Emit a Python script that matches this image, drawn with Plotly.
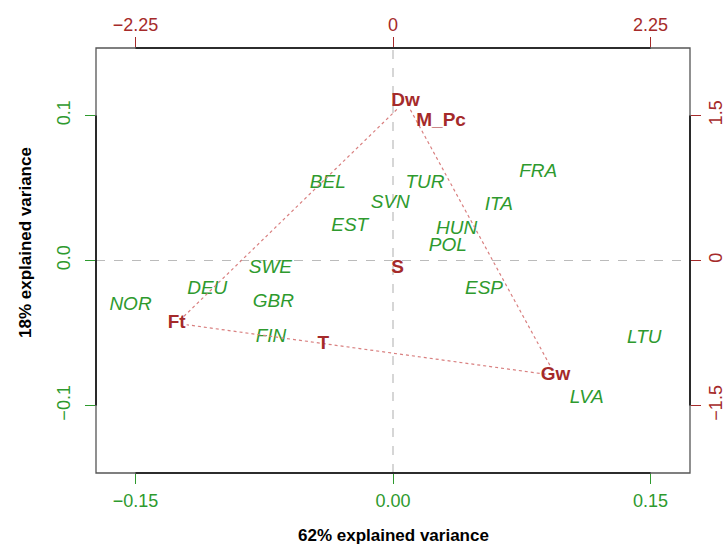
import plotly.graph_objects as go

# ---- data ----
countries = ["BEL", "SVN", "EST", "SWE", "DEU", "GBR", "NOR", "FIN",
             "TUR", "FRA", "ITA", "HUN", "POL", "ESP", "LTU", "LVA"]
pc1 = [-0.0380, -0.0016, -0.0252, -0.0714, -0.1082, -0.0697, -0.1529, -0.0711,
       0.0186, 0.0846, 0.0616, 0.0371, 0.0319, 0.0530, 0.1464, 0.1128]
pc2 = [0.0534, 0.0396, 0.0239, -0.0056, -0.0200, -0.0288, -0.0309, -0.0532,
       0.0534, 0.0605, 0.0384, 0.0214, 0.0101, -0.0200, -0.0538, -0.0952]

variables = ["Dw", "M_Pc", "S", "Ft", "T", "Gw"]
load1 = [0.11, 0.42, 0.04, -1.89, -0.61, 1.42]
load2 = [1.65, 1.44, -0.08, -0.65, -0.87, -1.19]
triangle = ["Ft", "Dw", "Gw", "Ft"]

x_ticks = [-0.15, 0.0, 0.15]
x_ticktext = ["\u22120.15", "0.00", "0.15"]
y_ticks = [-0.1, 0.0, 0.1]
y_ticktext = ["\u22120.1", "0.0", "0.1"]
x2_ticks = [-2.25, 0.0, 2.25]
x2_ticktext = ["\u22122.25", "0", "2.25"]
y2_ticks = [-1.5, 0.0, 1.5]
y2_ticktext = ["\u22121.5", "0", "1.5"]

x_title = "62% explained variance"
y_title = "18% explained variance"

# ---- styling ----
GREEN = "#2e9a2e"
RED = "#a52a2a"
LINE_RED = "#d98080"
FONT = "Liberation Sans, Arial, sans-serif"
W, H = 728, 544
ML, MR, MT, MB = 96, 38, 48, 71
XR = 0.173
YR = 0.1465
RATIO = 15.0
x_range = [-XR, XR]
y_range = [-YR, YR]
x2_range = [-XR * RATIO, XR * RATIO]
y2_range = [-YR * RATIO, YR * RATIO]

pw = W - ML - MR
ph = H - MT - MB
px_per_x2 = pw / (x2_range[1] - x2_range[0])
px_per_y2 = ph / (y2_range[1] - y2_range[0])

fig = go.Figure()

# triangle segments, trimmed near the labels
idx = {n: i for i, n in enumerate(variables)}
GAP = 10.0
for a, b in zip(triangle[:-1], triangle[1:]):
    xa, ya = load1[idx[a]], load2[idx[a]]
    xb, yb = load1[idx[b]], load2[idx[b]]
    dxp = (xb - xa) * px_per_x2
    dyp = (yb - ya) * px_per_y2
    L = (dxp ** 2 + dyp ** 2) ** 0.5
    f = GAP / L
    fig.add_trace(go.Scatter(
        x=[xa + (xb - xa) * f, xb - (xb - xa) * f],
        y=[ya + (yb - ya) * f, yb - (yb - ya) * f],
        mode="lines", line=dict(color=LINE_RED, width=1.2, dash="dot"),
        xaxis="x2", yaxis="y2", hoverinfo="skip", showlegend=False))

# country scores
fig.add_trace(go.Scatter(
    x=pc1, y=pc2, mode="text", text=[f"<i>{c}</i>" for c in countries],
    textfont=dict(color=GREEN, size=19, family=FONT),
    textposition="middle center", showlegend=False, hoverinfo="text"))

# variable loadings
fig.add_trace(go.Scatter(
    x=load1, y=load2, mode="text", text=[f"<b>{v}</b>" for v in variables],
    textfont=dict(color=RED, size=19, family=FONT),
    textposition="middle center", xaxis="x2", yaxis="y2",
    showlegend=False, hoverinfo="text"))

common = dict(showgrid=False, zeroline=False, showline=False, ticks="outside",
              ticklen=10, tickwidth=1, automargin=False)

fig.update_layout(
    width=W, height=H, autosize=False,
    margin=dict(l=ML, r=MR, t=MT, b=MB, pad=0, autoexpand=False),
    paper_bgcolor="white", plot_bgcolor="white",
    font=dict(family=FONT),
    xaxis=dict(range=x_range, tickvals=x_ticks, ticktext=x_ticktext,
               tickcolor=GREEN, tickfont=dict(color=GREEN, size=18, family=FONT),
               ticklabelstandoff=1, **common),
    yaxis=dict(range=y_range, tickvals=y_ticks, ticktext=y_ticktext,
               tickangle=-90, ticklabelstandoff=8,
               tickcolor=GREEN, tickfont=dict(color=GREEN, size=18, family=FONT),
               **common),
    xaxis2=dict(range=x2_range, tickvals=x2_ticks, ticktext=x2_ticktext,
                overlaying="x", side="top", anchor="y", ticklabelstandoff=-1,
                tickcolor=RED, tickfont=dict(color=RED, size=18, family=FONT),
                **common),
    yaxis2=dict(range=y2_range, tickvals=y2_ticks, ticktext=y2_ticktext,
                overlaying="y", side="right", anchor="x", tickangle=-90,
                ticklabelstandoff=-1,
                tickcolor=RED, tickfont=dict(color=RED, size=18, family=FONT),
                **common),
)

# dashed zero lines
fig.add_shape(type="line", xref="x", yref="paper", x0=0, x1=0, y0=0, y1=1,
              line=dict(color="#bbbbbb", width=1.2, dash="dash"), layer="below")
fig.add_shape(type="line", xref="paper", yref="y", x0=0, x1=1, y0=0, y1=0,
              line=dict(color="#bbbbbb", width=1.2, dash="dash"), layer="below")

# box
fig.add_shape(type="rect", xref="paper", yref="paper", x0=0, x1=1, y0=0, y1=1,
              line=dict(color="#555555", width=1.3))
# axis lines spanning the tick range
fig.add_shape(type="line", xref="x", yref="paper", x0=x_ticks[0], x1=x_ticks[-1],
              y0=0, y1=0, line=dict(color="#111111", width=1.6))
fig.add_shape(type="line", xref="paper", yref="y", x0=0, x1=0,
              y0=y_ticks[0], y1=y_ticks[-1], line=dict(color="#111111", width=1.6))
fig.add_shape(type="line", xref="x2", yref="paper", x0=x2_ticks[0], x1=x2_ticks[-1],
              y0=1, y1=1, line=dict(color="#111111", width=1.6))
fig.add_shape(type="line", xref="paper", yref="y2", x0=1, x1=1,
              y0=y2_ticks[0], y1=y2_ticks[-1], line=dict(color="#111111", width=1.6))

# axis titles
fig.add_annotation(text=f"<b>{x_title}</b>", xref="paper", yref="paper",
                   x=0.5, y=-(535.5 - (H - MB)) / ph, xanchor="center", yanchor="middle",
                   showarrow=False, font=dict(size=17, color="black", family=FONT))
fig.add_annotation(text=f"<b>{y_title}</b>", xref="paper", yref="paper",
                   x=(25 - ML) / pw, y=((H - MB) - 243) / ph, xanchor="center",
                   yanchor="middle", textangle=-90,
                   showarrow=False, font=dict(size=17, color="black", family=FONT))

fig.write_html("out.html")
